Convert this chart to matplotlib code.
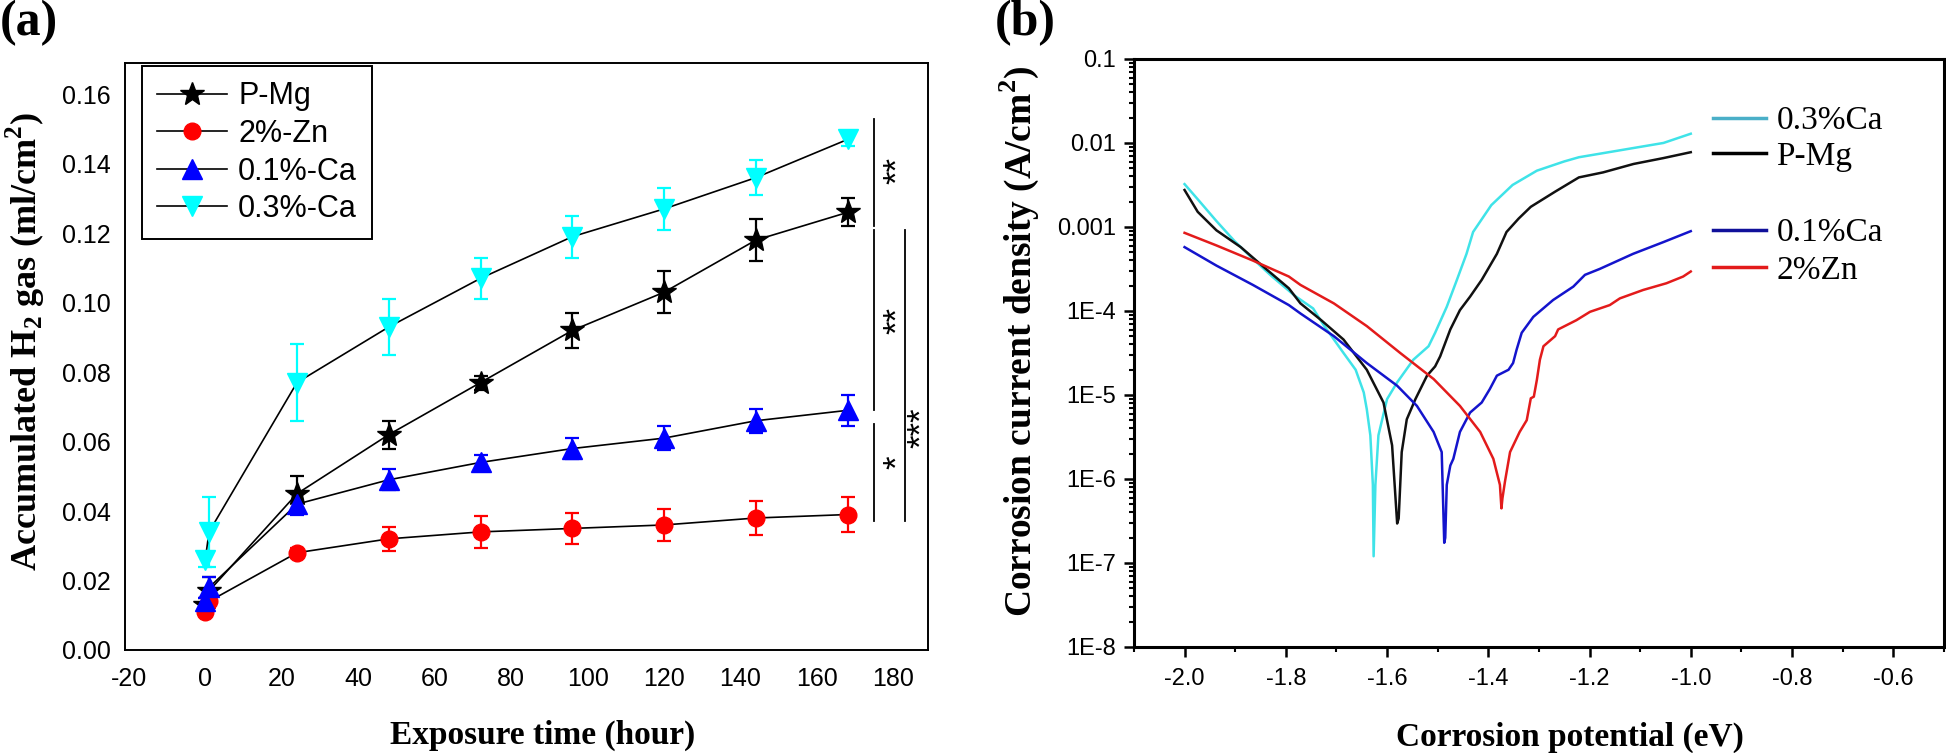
import numpy as np
import matplotlib
matplotlib.use('Agg')
import matplotlib.pyplot as plt
from matplotlib.lines import Line2D
from matplotlib.ticker import FixedLocator, MultipleLocator, LogLocator, NullFormatter

plt.rcParams['font.family'] = ['Liberation Sans', 'DejaVu Sans']
plt.rcParams['axes.unicode_minus'] = False
plt.rcParams['mathtext.fontset'] = 'custom'
plt.rcParams['mathtext.rm'] = 'Liberation Serif'
plt.rcParams['mathtext.bf'] = 'Liberation Serif:bold'

## (a) hydrogen evolution
time_h = [0, 1, 24, 48, 72, 96, 120, 144, 168]
pmg_h2 = [0.013, 0.017, 0.045, 0.062, 0.077, 0.092, 0.103, 0.118, 0.126]
pmg_err = [0.002, 0.004, 0.005, 0.004, 0.002, 0.005, 0.006, 0.006, 0.004]
zn2_h2 = [0.011, 0.014, 0.028, 0.032, 0.034, 0.035, 0.036, 0.038, 0.039]
zn2_err = [0.001, 0.002, 0.0015, 0.0035, 0.0045, 0.0045, 0.0045, 0.005, 0.005]
ca01_h2 = [0.014, 0.018, 0.042, 0.049, 0.054, 0.058, 0.061, 0.066, 0.069]
ca01_err = [0.001, 0.003, 0.003, 0.003, 0.002, 0.003, 0.0035, 0.0035, 0.0045]
ca03_h2 = [0.026, 0.034, 0.077, 0.093, 0.107, 0.119, 0.127, 0.136, 0.147]
ca03_err = [0.002, 0.010, 0.011, 0.008, 0.006, 0.006, 0.006, 0.005, 0.002]

# significance brackets
sig_x = [175, 175, 175, 183]
sig_lo = [0.122, 0.069, 0.037, 0.037]
sig_hi = [0.153, 0.121, 0.065, 0.121]
sig_text = ['**', '**', '*', '***']
sig_text_x = [181, 181, 181, 187.3]
sig_text_y = [0.138, 0.095, 0.054, 0.064]

## (b) polarisation curves (E in V, log10 of current density in A/cm2)
ca03_e = [-2.000, -1.974, -1.937, -1.901, -1.865, -1.829, -1.782, -1.746, -1.725, -1.686, -1.662,
          -1.646, -1.640, -1.633, -1.628, -1.6265, -1.623, -1.617, -1.600, -1.580, -1.548, -1.518,
          -1.505, -1.482, -1.462, -1.443, -1.430, -1.394, -1.352, -1.304, -1.250, -1.221, -1.113,
          -1.054, -1.000]
ca03_logi = [-2.49, -2.67, -2.93, -3.17, -3.38, -3.58, -3.82, -3.97, -4.17, -4.50, -4.70,
             -4.97, -5.17, -5.48, -6.07, -6.92, -6.07, -5.48, -5.05, -4.85, -4.58, -4.42,
             -4.26, -3.95, -3.63, -3.32, -3.06, -2.74, -2.50, -2.33, -2.22, -2.17, -2.06,
             -2.00, -1.89]
pmg_e = [-2.000, -1.974, -1.937, -1.889, -1.841, -1.794, -1.771, -1.730, -1.686, -1.640, -1.607,
         -1.590, -1.580, -1.577, -1.571, -1.561, -1.544, -1.521, -1.505, -1.495, -1.475, -1.456,
         -1.436, -1.413, -1.383, -1.364, -1.340, -1.316, -1.268, -1.221, -1.173, -1.113, -1.054,
         -1.000]
pmg_logi = [-2.56, -2.82, -3.04, -3.24, -3.49, -3.73, -3.91, -4.11, -4.34, -4.70, -5.09,
            -5.60, -6.53, -6.47, -5.68, -5.29, -5.05, -4.77, -4.66, -4.54, -4.22, -3.99,
            -3.83, -3.63, -3.32, -3.06, -2.90, -2.76, -2.58, -2.41, -2.35, -2.25, -2.18,
            -2.11]
ca01_e = [-2.000, -1.937, -1.865, -1.794, -1.771, -1.705, -1.640, -1.580, -1.541, -1.508, -1.492,
          -1.487, -1.485, -1.482, -1.475, -1.469, -1.456, -1.436, -1.413, -1.397, -1.383, -1.360,
          -1.351, -1.344, -1.334, -1.311, -1.272, -1.232, -1.209, -1.180, -1.114, -1.054, -1.000]
ca01_logi = [-3.24, -3.46, -3.69, -3.93, -4.03, -4.30, -4.62, -4.89, -5.13, -5.44, -5.68,
             -6.76, -6.70, -6.07, -5.84, -5.76, -5.44, -5.21, -5.09, -4.93, -4.77, -4.70,
             -4.62, -4.46, -4.26, -4.07, -3.87, -3.71, -3.57, -3.50, -3.32, -3.18, -3.05]
zn2_e = [-2.000, -1.937, -1.865, -1.794, -1.771, -1.705, -1.640, -1.574, -1.508, -1.456, -1.416,
         -1.390, -1.377, -1.374, -1.372, -1.367, -1.357, -1.338, -1.324, -1.316, -1.310, -1.304,
         -1.298, -1.291, -1.268, -1.262, -1.226, -1.199, -1.160, -1.140, -1.094, -1.048, -1.015, -1.000]
zn2_logi = [-3.07, -3.22, -3.40, -3.59, -3.69, -3.91, -4.18, -4.50, -4.81, -5.13, -5.44,
            -5.76, -6.07, -6.35, -6.23, -6.03, -5.68, -5.44, -5.30, -5.04, -5.02, -4.82,
            -4.58, -4.42, -4.30, -4.22, -4.11, -4.01, -3.93, -3.85, -3.75, -3.67, -3.59, -3.53]

ytick_vals = [1e-8, 1e-7, 1e-6, 1e-5, 1e-4, 1e-3, 1e-2, 1e-1]
ytick_labels = ['1E-8', '1E-7', '1E-6', '1E-5', '1E-4', '0.001', '0.01', '0.1']

CYAN = '#3FE3E8'
BLUE = '#1414CC'
RED = '#E31B1B'

fig = plt.figure(figsize=(19.46, 7.53), dpi=100)

# ---------------- panel (a)
ax1 = fig.add_axes([0.0642, 0.1368, 0.4126, 0.7795])
series = [
    ('P-Mg', pmg_h2, pmg_err, '*', 'black', 18),
    ('2%-Zn', zn2_h2, zn2_err, 'o', 'red', 12),
    ('0.1%-Ca', ca01_h2, ca01_err, '^', '#0000FF', 14),
    ('0.3%-Ca', ca03_h2, ca03_err, 'v', '#00FFFF', 14),
]
for name, y, e, m, c, ms in series:
    ax1.errorbar(time_h, y, yerr=e, fmt='none', ecolor=c, elinewidth=1.6, capsize=5, capthick=1.6, zorder=2)
    ax1.plot(time_h, y, '-', color='black', lw=1.2, marker=m, ms=ms, mfc=c, mec=c, label=name, zorder=3)

for x, lo, hi, t, tx, ty in zip(sig_x, sig_lo, sig_hi, sig_text, sig_text_x, sig_text_y):
    ax1.plot([x, x], [lo, hi], color='black', lw=1.3)
    ax1.text(tx, ty, t, rotation=90, ha='center', va='center', fontsize=25)

ax1.set_xlim(-21, 189)
ax1.set_ylim(0, 0.169)
ax1.set_xticks(np.arange(-20, 181, 20))
ax1.set_yticks(np.arange(0, 0.161, 0.02))
ax1.set_yticklabels(['%.2f' % v for v in np.arange(0, 0.161, 0.02)])
ax1.tick_params(length=0, labelsize=18)
ax1.tick_params(axis='y', pad=10)
ax1.tick_params(axis='x', pad=12)
for s in ax1.spines.values():
    s.set_linewidth(1.4)
leg = ax1.legend(loc='upper left', bbox_to_anchor=(0.021, 0.995), borderaxespad=0, fontsize=22,
                 handlelength=2.3, handletextpad=0.35, labelspacing=0.25, borderpad=0.5,
                 fancybox=False, edgecolor='black', framealpha=1, numpoints=1)
leg.get_frame().set_linewidth(1.4)

fig.text(0.013, 0.546, r'Accumulated H$_\mathbf{2}$ gas (ml/cm$^\mathbf{2}$)', rotation=90,
         ha='center', va='center', fontsize=26, fontweight='bold', family='Liberation Serif')
fig.text(0.279, 0.024, 'Exposure time (hour)', ha='center', va='center', fontsize=24,
         fontweight='bold', family='Liberation Serif')
fig.text(0.0, 1.0, '(a)', ha='left', va='top', fontsize=36, fontweight='bold', family='Liberation Serif')

# ---------------- panel (b)
ax2 = fig.add_axes([0.5827, 0.1408, 0.4162, 0.7809])
curves = [
    (ca03_e, ca03_logi, CYAN),
    (pmg_e, pmg_logi, '#111111'),
    (ca01_e, ca01_logi, BLUE),
    (zn2_e, zn2_logi, RED),
]
for e, li, c in curves:
    ax2.plot(e, 10.0 ** np.array(li), color=c, lw=1.8)
ax2.set_yscale('log')
ax2.set_xlim(-2.1, -0.5)
ax2.set_ylim(1e-8, 1e-1)
ax2.yaxis.set_major_locator(FixedLocator(ytick_vals))
ax2.set_yticklabels(ytick_labels)
ax2.yaxis.set_minor_locator(LogLocator(base=10, subs=np.arange(2, 10), numticks=20))
ax2.yaxis.set_minor_formatter(NullFormatter())
ax2.set_xticks(np.arange(-2.0, -0.59, 0.2))
ax2.set_xticklabels(['%.1f' % v for v in np.arange(-2.0, -0.59, 0.2)])
ax2.xaxis.set_minor_locator(MultipleLocator(0.1))
ax2.tick_params(which='major', direction='out', length=7, width=1.8, labelsize=17, pad=6)
ax2.tick_params(which='minor', direction='out', length=3.5, width=1.5)
ax2.tick_params(axis='x', which='major', pad=8)
for s in ax2.spines.values():
    s.set_linewidth(2.2)

h1 = [Line2D([], [], color='#4AAFC8', lw=2.5), Line2D([], [], color='black', lw=2.5)]
h2 = [Line2D([], [], color='#10109A', lw=2.5), Line2D([], [], color=RED, lw=2.5)]
lg1 = ax2.legend(h1, ['0.3%Ca', 'P-Mg'], loc='center left', bbox_to_anchor=(0.715, 0.864),
                 frameon=False, handlelength=1.6, handletextpad=0.3, labelspacing=0.15,
                 borderpad=0, borderaxespad=0, prop={'family': 'Liberation Serif', 'size': 24})
ax2.add_artist(lg1)
ax2.legend(h2, ['0.1%Ca', '2%Zn'], loc='center left', bbox_to_anchor=(0.715, 0.672),
           frameon=False, handlelength=1.6, handletextpad=0.3, labelspacing=0.2,
           borderpad=0, borderaxespad=0, prop={'family': 'Liberation Serif', 'size': 24})

fig.text(0.524, 0.547, r'Corrosion current density (A/cm$^\mathbf{2}$)', rotation=90,
         ha='center', va='center', fontsize=27, fontweight='bold', family='Liberation Serif')
fig.text(0.807, 0.021, 'Corrosion potential (eV)', ha='center', va='center', fontsize=24,
         fontweight='bold', family='Liberation Serif')
fig.text(0.511, 1.0, '(b)', ha='left', va='top', fontsize=36, fontweight='bold', family='Liberation Serif')

fig.savefig('out.png', dpi=100)
